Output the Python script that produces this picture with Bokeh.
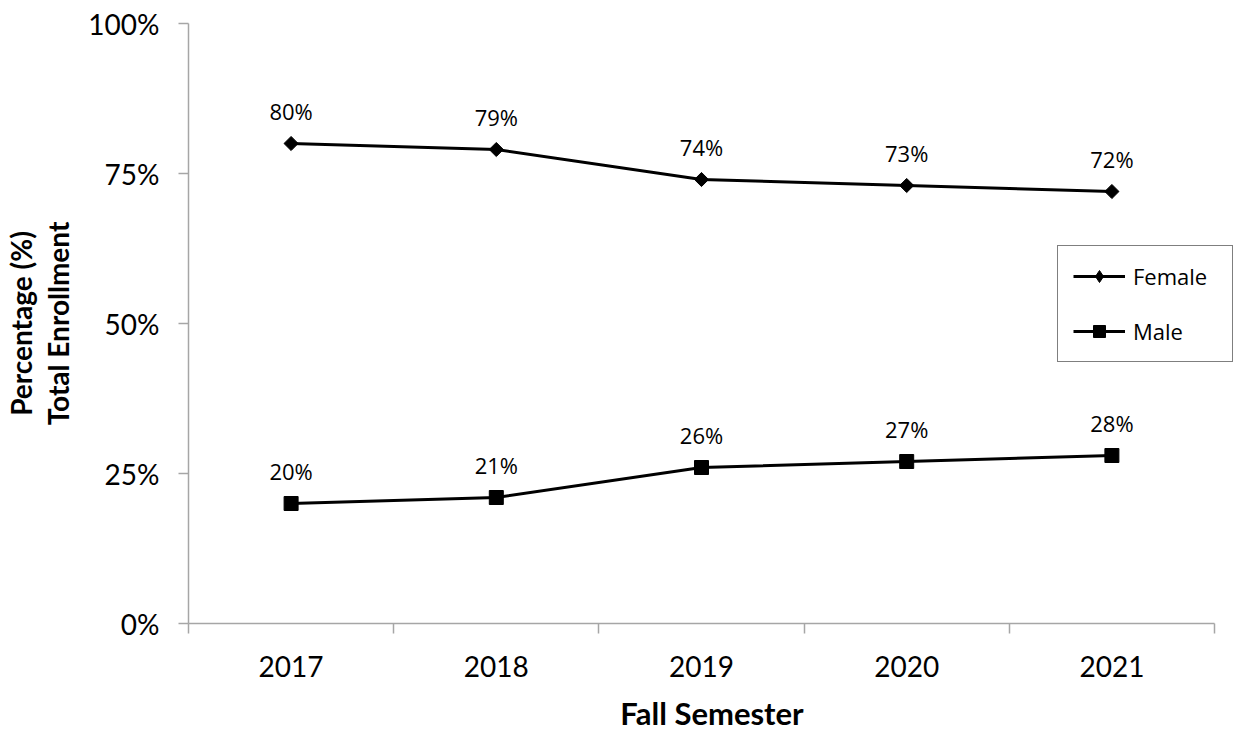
import math
from bokeh.plotting import figure
from bokeh.models import (ColumnDataSource, FixedTicker, Legend, LegendItem,
                          CustomJSTickFormatter, LabelSet)
from bokeh.core.properties import value
from bokeh.embed import file_html
from bokeh.resources import INLINE

years = ["2017", "2018", "2019", "2020", "2021"]
female = [80, 79, 74, 73, 72]
male = [20, 21, 26, 27, 28]
y_ticks = [0, 25, 50, 75, 100]

n = len(years)
xpos = [i + 0.5 for i in range(n)]
src_f = ColumnDataSource(dict(x=xpos, y=female, lab=[f"{v}%" for v in female]))
src_m = ColumnDataSource(dict(x=xpos, y=male, lab=[f"{v}%" for v in male]))

# frame spans 189..1236 on the page; category area 189..1215
frame_w = 1047
cat_w = 1026 / n
p = figure(frame_width=frame_w, frame_height=600, output_backend="svg",
           toolbar_location=None,
           x_range=(0, frame_w / cat_w), y_range=(0, 100),
           min_border_left=181, min_border_right=2, min_border_top=23,
           min_border_bottom=108)
p.outline_line_color = None
p.grid.visible = False
p.background_fill_color = "white"

axis_color = "#A6A6A6"
tick_font = "Lato"

# x axis
p.xaxis.bounds = (0, n)
p.xaxis.ticker = FixedTicker(ticks=xpos, minor_ticks=list(range(n + 1)))
p.xaxis.major_label_overrides = {x: y for x, y in zip(xpos, years)}
p.xaxis.major_tick_out = 0
p.xaxis.major_tick_in = 0
p.xaxis.minor_tick_out = 10
p.xaxis.minor_tick_in = 0
p.xaxis.minor_tick_line_color = axis_color
p.xaxis.axis_line_color = axis_color
p.xaxis.axis_line_width = 1.5
p.xaxis.minor_tick_line_width = 1.5
p.xaxis.major_label_text_font = tick_font
p.xaxis.major_label_text_font_size = "28px"
p.xaxis.major_label_text_color = "black"
p.xaxis.major_label_standoff = 22
p.xaxis.axis_label = "Fall Semester"
p.xaxis.axis_label_text_font = tick_font
p.xaxis.axis_label_text_font_style = "bold"
p.xaxis.axis_label_text_font_size = "31px"
p.xaxis.axis_label_text_color = "black"
p.xaxis.axis_label_standoff = 14

# y axis
p.yaxis.ticker = FixedTicker(ticks=y_ticks)
p.yaxis.formatter = CustomJSTickFormatter(code="return tick + '%';")
p.yaxis.major_tick_out = 10
p.yaxis.major_tick_in = 0
p.yaxis.minor_tick_out = 0
p.yaxis.minor_tick_in = 0
p.yaxis.major_tick_line_color = axis_color
p.yaxis.major_tick_line_width = 1.5
p.yaxis.axis_line_color = axis_color
p.yaxis.axis_line_width = 1.5
p.yaxis.major_label_text_font = tick_font
p.yaxis.major_label_text_font_size = "28px"
p.yaxis.major_label_text_color = "black"
p.yaxis.major_label_standoff = 19
p.yaxis.axis_label = "Percentage (%)\nTotal Enrollment"
p.yaxis.axis_label_text_font = tick_font
p.yaxis.axis_label_text_font_style = "bold"
p.yaxis.axis_label_text_font_size = "28px"
p.yaxis.axis_label_text_color = "black"
p.yaxis.axis_label_text_line_height = 1.1
p.yaxis.axis_label_standoff = 10

# series
lf = p.line("x", "y", source=src_f, line_color="black", line_width=3)
p.scatter("x", "y", source=src_f, marker="square", angle=math.pi / 4,
          size=10, color="black")
lm = p.line("x", "y", source=src_m, line_color="black", line_width=3)
mm = p.scatter("x", "y", source=src_m, marker="square", size=14, color="black")
# legend-only diamond (not drawn in the plot)
leg_d = p.scatter(x=[float("nan")], y=[float("nan")], marker="diamond",
                  size=18, color="black")

for s in (src_f, src_m):
    p.add_layout(LabelSet(x="x", y="y", text="lab", source=s, y_offset=33,
                          text_align="center", text_baseline="middle",
                          text_font=value("Open Sans"), text_font_size="22px",
                          text_color="black"))

legend = Legend(items=[LegendItem(label="Female", renderers=[lf, leg_d]),
                       LegendItem(label="Male", renderers=[lm, mm])],
                location=(869, 261), orientation="vertical",
                glyph_width=52, glyph_height=30, label_standoff=8,
                label_width=84,
                padding=15, spacing=25, margin=0,
                label_text_font="Open Sans", label_text_font_size="22px",
                label_text_color="black",
                border_line_color="black", border_line_width=1.5,
                background_fill_color="white", background_fill_alpha=1)
p.add_layout(legend)

open("out.html", "w").write(file_html(p, INLINE))
